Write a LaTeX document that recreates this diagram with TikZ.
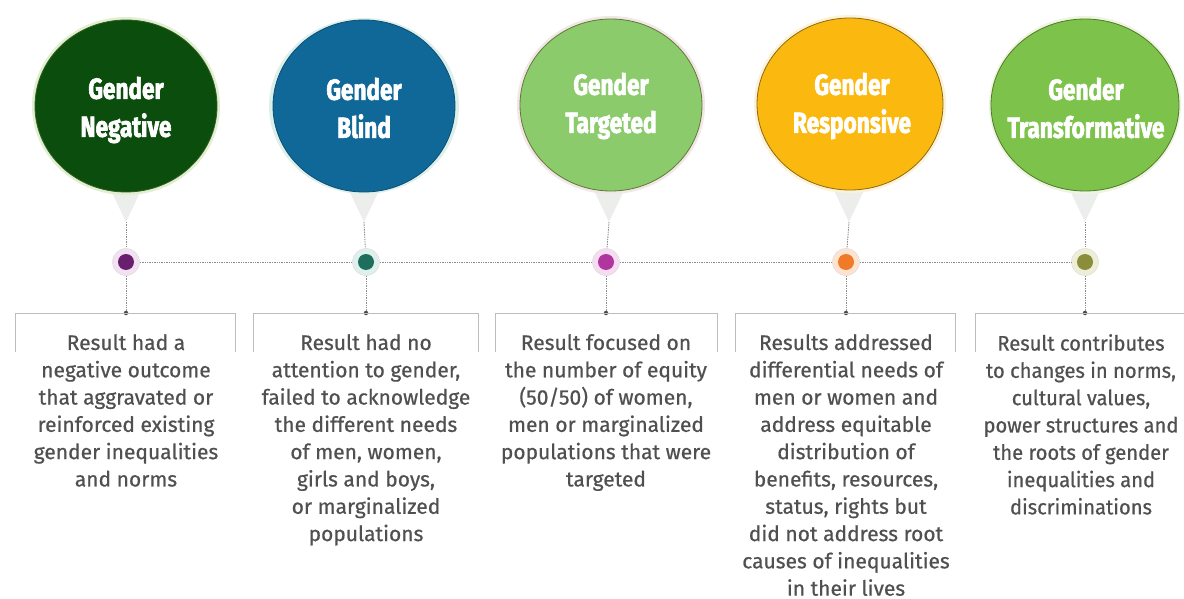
\documentclass[tikz,border=0pt]{standalone}
\usepackage{fontspec}
\usetikzlibrary{shapes.geometric}
\newfontfamily\bodyfont{Fira Sans}[FakeStretch=1.0, FakeBold=0.6]
\newfontfamily\bodyfontn{Fira Sans}[FakeStretch=0.96, FakeBold=0.6]
\newfontfamily\titlefont{Fira Sans}[FakeStretch=0.78, FakeBold=2.2]
\definecolor{cA}{HTML}{0B4D0D}\definecolor{cAe}{HTML}{2F5F1F}\definecolor{cAh}{HTML}{E2EED2}
\definecolor{cB}{HTML}{106898}\definecolor{cBe}{HTML}{0B4F72}\definecolor{cBh}{HTML}{DDEFEA}
\definecolor{cC}{HTML}{8CCB6B}\definecolor{cCe}{HTML}{5E7A3A}\definecolor{cCh}{HTML}{F3E6E6}
\definecolor{cD}{HTML}{FBB80F}\definecolor{cDe}{HTML}{8A6A10}\definecolor{cDh}{HTML}{FBF2D8}
\definecolor{cE}{HTML}{7DC24A}\definecolor{cEe}{HTML}{4F7A2A}\definecolor{cEh}{HTML}{EEF4E0}
\definecolor{dA}{HTML}{6A1E6E}\definecolor{dAh}{HTML}{F1E1F1}
\definecolor{dB}{HTML}{1E6E5E}\definecolor{dBh}{HTML}{DFF0EC}
\definecolor{dC}{HTML}{B0359E}\definecolor{dCh}{HTML}{F6DCF0}
\definecolor{dD}{HTML}{F07A28}\definecolor{dDh}{HTML}{FDE3D0}
\definecolor{dE}{HTML}{8A8E3A}\definecolor{dEh}{HTML}{EEEED8}
\definecolor{txt}{HTML}{505050}
\definecolor{rule}{HTML}{BDBDBD}
\definecolor{ptr}{HTML}{ECEEEC}
\begin{document}
\begin{tikzpicture}[x=1pt,y=-1pt,
  bubble/.style={ellipse, minimum width=182pt, minimum height=172pt, inner sep=0pt, line width=0.8pt},
  title/.style={text=white, align=center, inner sep=0pt, font=\titlefont\bfseries\fontsize{29}{38}\selectfont},
  dotin/.style={circle, minimum size=16pt, inner sep=0pt, fill=#1},
  dothalo/.style={circle, minimum size=27pt, inner sep=0pt, fill=#1, draw=white!85!black, line width=0.4pt},
  junc/.style={circle, minimum size=4.5pt, inner sep=0pt, fill=black!70},
  link/.style={draw=black!45, line width=0.9pt, dash pattern=on 1.4pt off 1pt},
  boxrule/.style={draw=rule, line width=1pt},
  desc/.style={anchor=north, inner sep=0pt, align=center, text=txt,
     font=\bodyfont\fontsize{21}{27.3}\selectfont},
  pointer/.style={fill=ptr, draw=none}
]
\useasboundingbox (0,0) rectangle (1184,599);
\fill[white] (0,0) rectangle (1184,599);

% pointers (behind circles)
\foreach \cx/\n in {126/1,364/2,609/3,849/4,1085/5}{
  \fill[pointer] (\cx-20,180) -- (\cx+20,180) -- (\cx,222) -- cycle;
  \coordinate (p\n) at (\cx,222);
}

% halos behind circles
\fill[cAh] (126,106) ellipse (94 and 89);
\fill[cBh] (364,106) ellipse (95 and 88);
\fill[cCh] (611,105) ellipse (94 and 89);
\fill[cDh] (850,104) ellipse (96 and 89);
\fill[cEh] (1085,105) ellipse (96 and 89);

% circles
\node[bubble, fill=cA, draw=cAe] (c1) at (126,106) {};
\node[bubble, fill=cB, draw=cBe] (c2) at (364,106) {};
\node[bubble, fill=cC, draw=cCe] (c3) at (611,105) {};
\node[bubble, fill=cD, draw=cDe, minimum width=186pt] (c4) at (850,104) {};
\node[bubble, fill=cE, draw=cEe, minimum width=188pt] (c5) at (1085,105) {};
\node[title] (n1) at (126,110) {Gender\\Negative};
\node[title] (n2) at (364,108) {Gender\\Blind};
\node[title] (n3) at (611,106) {Gender\\Targeted};
\node[title] (n4) at (852,106) {Gender\\Responsive};
\node[title] (n5) at (1086,108) {Gender\\Transformative};

% dot halos and dots
\node[dothalo=dAh] (h1) at (126,262) {};
\node[dothalo=dBh] (h2) at (366,262) {};
\node[dothalo=dCh] (h3) at (606,262) {};
\node[dothalo=dDh] (h4) at (846,262) {};
\node[dothalo=dEh] (h5) at (1085,262) {};
\node[dotin=dA] (d1) at (126,262) {};
\node[dotin=dB] (d2) at (366,262) {};
\node[dotin=dC] (d3) at (606,262) {};
\node[dotin=dD] (d4) at (846,262) {};
\node[dotin=dE] (d5) at (1085,262) {};

% junctions on box tops
\node[junc] (j1) at (126,313) {};
\node[junc] (j2) at (366,313) {};
\node[junc] (j3) at (606,313) {};
\node[junc] (j4) at (846,313) {};
\node[junc] (j5) at (1085,313) {};

% connectors
\draw[link] (h1) -- (h2);
\draw[link] (h2) -- (h3);
\draw[link] (h3) -- (h4);
\draw[link] (h4) -- (h5);
\foreach \n in {1,...,5}{
  \draw[link] (p\n) -- (h\n);
  \draw[link] (h\n) -- (j\n);
}

% boxes
\foreach \l/\r in {15/235,253/478,495/717,735/955,975/1200}{
  \draw[boxrule] (\l,352) -- (\l,313) -- (\r,313) -- (\r,352);
}

% descriptions
\node[desc] (t1) at (126,334) {Result had a\\negative outcome\\that aggravated or\\reinforced existing\\gender inequalities\\and norms};
\node[desc] (t2) at (366,334) {Result had no\\attention to gender,\\failed to acknowledge\\the different needs\\of men, women,\\girls and boys,\\or marginalized\\populations};
\node[desc] (t3) at (606,334) {Result focused on\\the number of equity\\(50/50) of women,\\men or marginalized\\populations that were\\targeted};
\node[desc] (t4) at (846,334) {Results addressed\\differential needs of\\men or women and\\address equitable\\distribution of\\benefits, resources,\\status, rights but\\did not address root\\causes of inequalities\\in their lives};
\node[desc, font=\bodyfontn\fontsize{21}{27.3}\selectfont] (t5) at (1081,334) {Result contributes\\to changes in norms,\\cultural values,\\power structures and\\the roots of gender\\inequalities and\\discriminations};
\end{tikzpicture}
\end{document}
